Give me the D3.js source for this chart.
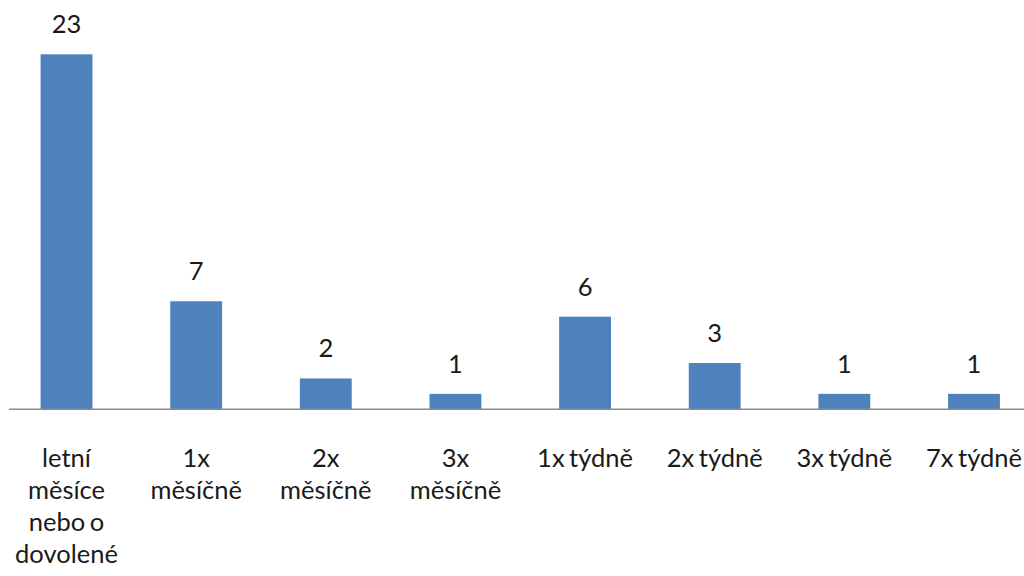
<!DOCTYPE html>
<html>
<head>
<meta charset="utf-8">
<script src="https://cdn.jsdelivr.net/npm/d3@7"></script>
<style>
  html, body { margin: 0; padding: 0; background: #fff; }
  svg { display: block; }
  text { font-family: Lato, "Open Sans", sans-serif; fill: #1a1a1a; word-spacing: -2px; }
</style>
</head>
<body>
<svg id="chart" width="1024" height="576"></svg>
<script>
// Category labels (line breaks as they wrap under each bar)
const categories = [
  "letní\nměsíce\nnebo o\ndovolené",
  "1x\nměsíčně",
  "2x\nměsíčně",
  "3x\nměsíčně",
  "1x týdně",
  "2x týdně",
  "3x týdně",
  "7x týdně"
];
const counts = [23, 7, 2, 1, 6, 3, 1, 1];

const svg = d3.select("#chart");
const fontSize = 25.5;

const x = d3.scaleBand()
  .domain(categories)
  .range([1.7, 1038.8])
  .paddingInner(0.6)
  .paddingOuter(0.3);

const y = d3.scaleLinear()
  .domain([0, 23])
  .range([409.3, 54.3]);

// Bars
svg.append("g")
  .selectAll("rect")
  .data(counts)
  .join("rect")
  .attr("x", (d, i) => x(categories[i]))
  .attr("y", d => y(d))
  .attr("width", x.bandwidth())
  .attr("height", d => y(0) - y(d))
  .attr("fill", "#4f81bd");

// Category axis line
svg.append("line")
  .attr("x1", 9).attr("x2", 1024)
  .attr("y1", y(0)).attr("y2", y(0))
  .attr("stroke", "#8c8c8c")
  .attr("stroke-width", 1.5);

// Value labels
svg.append("g")
  .selectAll("text")
  .data(counts)
  .join("text")
  .attr("x", (d, i) => x(categories[i]) + x.bandwidth() / 2)
  .attr("y", d => y(d) - 21)
  .attr("text-anchor", "middle")
  .attr("font-size", fontSize)
  .text(d => d);

// Category labels
const lab = svg.append("g")
  .selectAll("text")
  .data(categories)
  .join("text")
  .attr("x", d => x(d) + x.bandwidth() / 2)
  .attr("y", 467)
  .attr("text-anchor", "middle")
  .attr("font-size", fontSize);

lab.each(function(d) {
  const t = d3.select(this);
  const cx = x(d) + x.bandwidth() / 2;
  d.split("\n").forEach((line, k) => {
    t.append("tspan")
      .attr("x", cx)
      .attr("dy", k === 0 ? 0 : 32)
      .text(line);
  });
});
</script>
</body>
</html>
